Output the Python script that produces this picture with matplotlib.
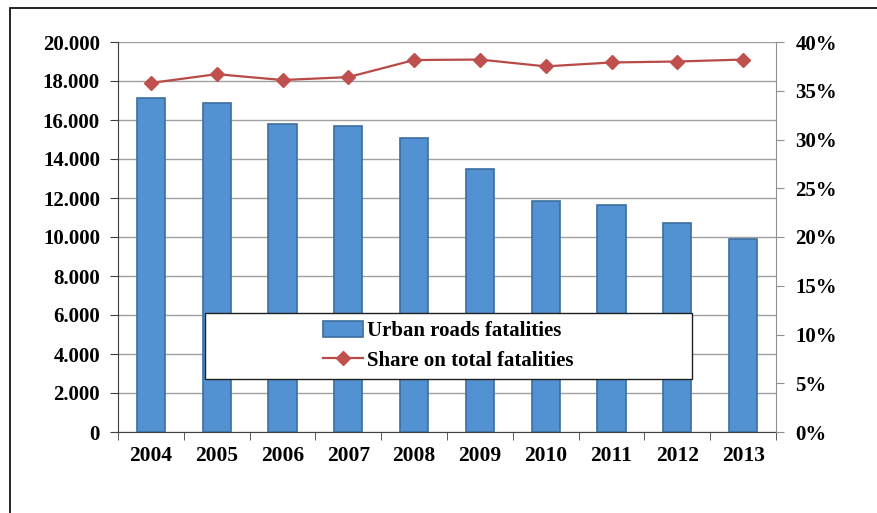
import numpy as np
import matplotlib.pyplot as plt
from matplotlib.patches import Rectangle
from matplotlib.ticker import FuncFormatter, MultipleLocator

years = ['2004', '2005', '2006', '2007', '2008', '2009', '2010', '2011', '2012', '2013']
fatalities = [17130, 16870, 15800, 15690, 15080, 13490, 11850, 11640, 10720, 9900]
share = [35.8, 36.7, 36.1, 36.4, 38.15, 38.2, 37.5, 37.9, 38.0, 38.2]

plt.rcParams['font.family'] = ['Liberation Serif', 'DejaVu Serif']
plt.rcParams['font.weight'] = 'bold'

fig = plt.figure(figsize=(8.77, 5.13), dpi=100)
ax = fig.add_axes([118 / 877, 1 - 432 / 513, (776 - 118) / 877, (432 - 42) / 513])

x = np.arange(len(years))
ax.bar(x, fatalities, width=0.43, color='#5392D2', edgecolor='#3C6E9E',
       linewidth=1.2, label='Urban roads fatalities', zorder=3)
ax.set_xlim(-0.5, len(years) - 0.5)
ax.set_ylim(0, 20000)
ax.yaxis.set_major_locator(MultipleLocator(2000))
ax.yaxis.set_major_formatter(FuncFormatter(lambda v, p: f'{int(v):,}'.replace(',', '.')))
ax.grid(axis='y', color='#A0A0A0', linewidth=1, zorder=0)

ax.set_xticks(x)
ax.set_xticklabels(years, fontsize=15.5, fontweight='bold')
ax.tick_params(axis='x', length=0, pad=10)
ax.set_xticks(np.arange(-0.5, len(years)), minor=True)
ax.tick_params(axis='x', which='minor', length=6, color='#404040', direction='out')
ax.tick_params(axis='y', length=6, color='#404040', labelsize=15, pad=7)

for s in ['top', 'right']:
    ax.spines[s].set_visible(False)
ax.spines['left'].set_color('#404040')
ax.spines['bottom'].set_color('#404040')

ax2 = ax.twinx()
ax2.plot(x, share, color='#B84A47', linewidth=1.6, marker='D', markersize=7,
         markerfacecolor='#C0504D', markeredgecolor='#C0504D',
         label='Share on total fatalities', zorder=4)
ax2.set_ylim(0, 40)
ax2.yaxis.set_major_locator(MultipleLocator(5))
ax2.yaxis.set_major_formatter(FuncFormatter(lambda v, p: f'{int(v)}%'))
ax2.tick_params(axis='y', length=6, color='#909090', labelsize=15, pad=8)
for s in ['top', 'left', 'bottom']:
    ax2.spines[s].set_visible(False)
ax2.spines['right'].set_color('#909090')

# legend box drawn as a plain rectangle, entries centered inside it
bx0, bx1 = (205 - 118) / 658, (692 - 118) / 658
by0, by1 = (432 - 379) / 390, (432 - 313) / 390
ax2.add_patch(Rectangle((bx0, by0), bx1 - bx0, by1 - by0, transform=ax2.transAxes,
                        facecolor='white', edgecolor='#202020', linewidth=1.0, zorder=9))
h1, l1 = ax.get_legend_handles_labels()
h2, l2 = ax2.get_legend_handles_labels()
leg = ax2.legend(h1 + h2, l1 + l2, loc='center',
                 bbox_to_anchor=((bx0 + bx1) / 2, (by0 + by1) / 2),
                 frameon=False, prop={'size': 15, 'weight': 'bold'},
                 handlelength=1.9, handleheight=0.8, handletextpad=0.2,
                 labelspacing=0.45)
leg.set_zorder(10)

# outer frame around the chart
fig.patches.append(Rectangle((10 / 877, -0.1), 1.1, 1.1 - 8 / 513,
                             transform=fig.transFigure, fill=False,
                             edgecolor='#000000', linewidth=1.2))

fig.savefig('out.png', dpi=100)
